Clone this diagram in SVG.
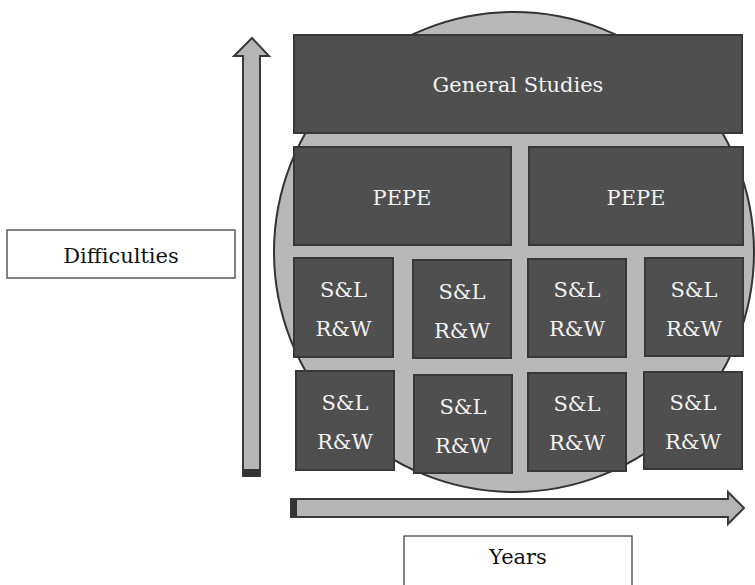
<svg xmlns="http://www.w3.org/2000/svg" width="755" height="585" viewBox="0 0 755 585">
<style>
.blk{fill:#4f4f4f;stroke:#383838;stroke-width:2}
.lbl{fill:#f2f2f2;font-family:"DejaVu Serif","Liberation Serif",serif;font-size:21px;text-anchor:middle}
.axl{fill:#111;font-family:"DejaVu Serif","Liberation Serif",serif;font-size:21px;text-anchor:middle}
.wbox{fill:#fff;stroke:#444;stroke-width:1.3}
.arr{fill:#b5b5b5;stroke:#3a3a3a;stroke-width:2;stroke-linejoin:miter}
</style>
<rect width="755" height="585" fill="#fff"/>
<g id="circle"><circle cx="514" cy="252" r="240" fill="#b8b8b8" stroke="#333" stroke-width="2"/></g>
<g id="connectors">
<polygon class="arr" points="243,476 243,56 234,56 252,38 269,56 260,56 260,476"/>
<rect x="243" y="469" width="17" height="7" fill="#333"/>
<polygon class="arr" points="291,499 728,499 728,492 744,508 728,524 728,517 291,517"/>
<rect x="291" y="499" width="6" height="18" fill="#333"/>
</g>
<g id="general"><rect class="blk" x="294" y="35" width="448" height="98"/><text class="lbl" x="518" y="92">General Studies</text></g>
<g id="pepe1"><rect class="blk" x="294" y="147" width="217" height="98"/><text class="lbl" x="402" y="205">PEPE</text></g>
<g id="pepe2"><rect class="blk" x="529" y="147" width="214" height="98"/><text class="lbl" x="636" y="205">PEPE</text></g>
<g id="sl1"><rect class="blk" x="294" y="258" width="99" height="99"/><text class="lbl" x="343.5" y="297">S&amp;L</text><text class="lbl" x="343.5" y="336">R&amp;W</text></g>
<g id="sl2"><rect class="blk" x="413" y="260" width="98" height="98"/><text class="lbl" x="462" y="299">S&amp;L</text><text class="lbl" x="462" y="338">R&amp;W</text></g>
<g id="sl3"><rect class="blk" x="528" y="259" width="98" height="98"/><text class="lbl" x="577" y="297">S&amp;L</text><text class="lbl" x="577" y="336">R&amp;W</text></g>
<g id="sl4"><rect class="blk" x="645" y="258" width="98" height="98"/><text class="lbl" x="694" y="297">S&amp;L</text><text class="lbl" x="694" y="336">R&amp;W</text></g>
<g id="sl5"><rect class="blk" x="296" y="371" width="98" height="99"/><text class="lbl" x="345" y="410">S&amp;L</text><text class="lbl" x="345" y="449">R&amp;W</text></g>
<g id="sl6"><rect class="blk" x="414" y="375" width="98" height="98"/><text class="lbl" x="463" y="414">S&amp;L</text><text class="lbl" x="463" y="453">R&amp;W</text></g>
<g id="sl7"><rect class="blk" x="528" y="373" width="98" height="98"/><text class="lbl" x="577" y="411">S&amp;L</text><text class="lbl" x="577" y="450">R&amp;W</text></g>
<g id="sl8"><rect class="blk" x="644" y="372" width="98" height="97"/><text class="lbl" x="693" y="410">S&amp;L</text><text class="lbl" x="693" y="449">R&amp;W</text></g>
<g id="difficulties"><rect class="wbox" x="7" y="230" width="228" height="48"/><text class="axl" x="121" y="263">Difficulties</text></g>
<g id="years"><rect class="wbox" x="404" y="536" width="228" height="52"/><text class="axl" x="518" y="564">Years</text></g>
</svg>
